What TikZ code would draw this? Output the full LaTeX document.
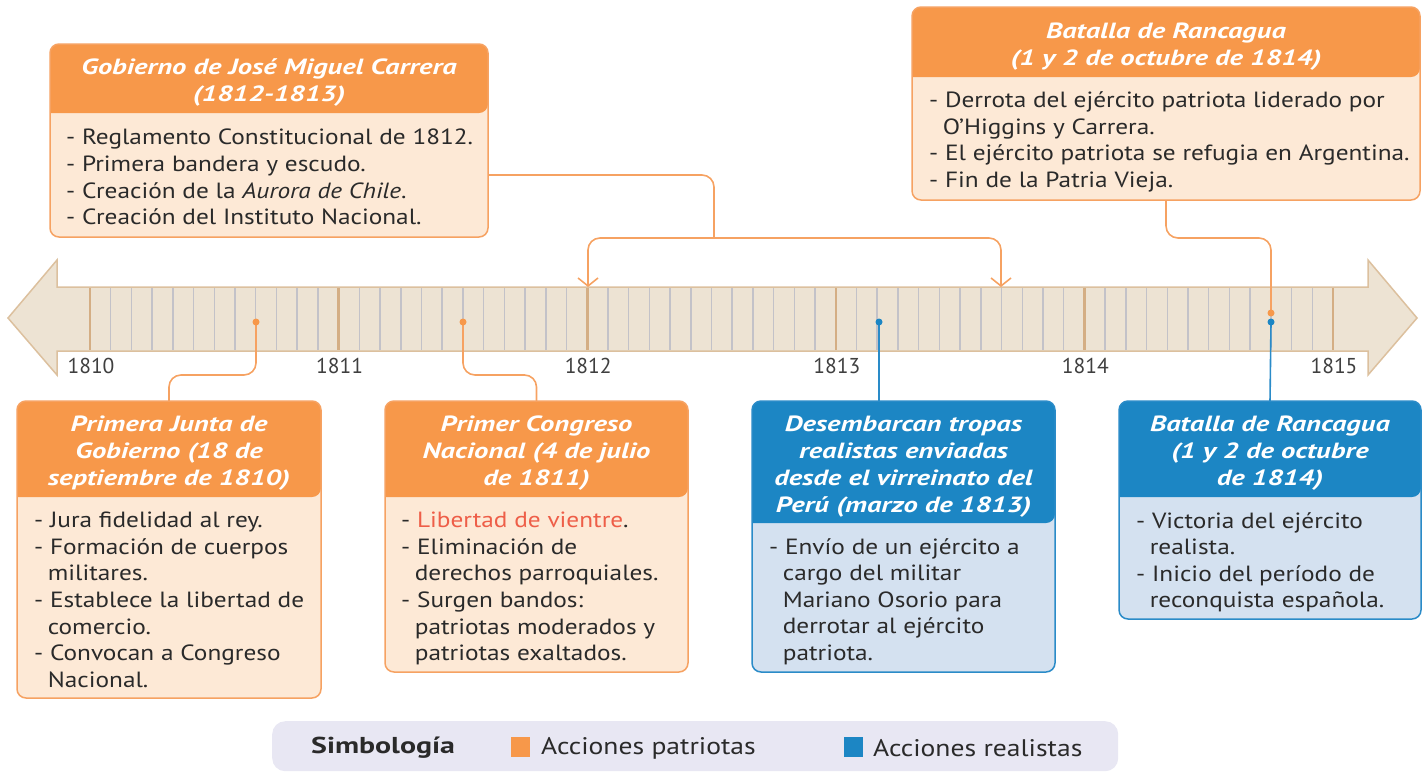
\documentclass[tikz,border=0pt]{standalone}
\usepackage{fontspec}
\setmainfont{PT Sans}[FakeStretch=1.15]
\newfontfamily\hfont{PT Sans}[FakeStretch=1.3]
\newfontfamily\plainfont{PT Sans}
\usetikzlibrary{arrows.meta}
\definecolor{ohead}{HTML}{F7984A}
\definecolor{obody}{HTML}{FDE9D6}
\definecolor{oline}{HTML}{F6A262}
\definecolor{bhead}{HTML}{1C86C4}
\definecolor{bbody}{HTML}{D4E1F0}
\definecolor{bline}{HTML}{2A8BC8}
\definecolor{tlfill}{HTML}{EDE3D3}
\definecolor{tldraw}{HTML}{DCC09E}
\definecolor{mtick}{HTML}{C3C2C8}
\definecolor{ytick}{HTML}{D4AE84}
\definecolor{txt}{HTML}{2A2A2A}
\definecolor{legfill}{HTML}{E8E7F3}
\definecolor{redtxt}{HTML}{EE5E48}
\newcommand\evbox[7]{%
  \node[inner sep=0, outer sep=0, minimum width={#4-#2}, minimum height={#5-#3}, anchor=north west] (#1) at (#2,#3) {};
  \fill[#7body, rounded corners=9] (#1.north west) rectangle (#1.south east);
  \fill[#7head] (#2,#6) [rounded corners=9] -- (#2,#3) -- (#4,#3) -- (#4,#6) [sharp corners] -- cycle;
  \draw[#7line, line width=1.5, rounded corners=9] (#1.north west) rectangle (#1.south east);
}
\newcommand\ind{\hspace*{0.62em}}
\begin{document}
\begin{tikzpicture}[x=1pt,y=-1pt,
  htext/.style={text=white, align=center, inner sep=0, font=\hfont\fontsize{22}{27}\selectfont\bfseries\itshape},
  btext/.style={text=txt, align=left, inner sep=0, anchor=north west, font=\fontsize{22}{26.6}\selectfont},
  ocon/.style={oline, line width=1.6, rounded corners=12},
  bcon/.style={bline, line width=1.6},
  dot/.style={circle, inner sep=0, minimum size=7},
  yearlab/.style={text=txt!90, inner sep=0, font=\plainfont\fontsize{21.5}{24}\selectfont},
  legtext/.style={text=txt, inner sep=0, anchor=west, font=\fontsize{24}{26}\selectfont},
  barb/.style={-{Straight Barb[length=8pt,width=20pt,line width=1.6pt]}}
]
\useasboundingbox (0,0) rectangle (1423,782);
% timeline arrow
\filldraw[fill=tlfill, draw=tldraw, line width=1.5, line join=miter]
  (8,318) -- (57,260) -- (57,287) -- (1368,287) -- (1368,260) -- (1417,318)
  -- (1368,375) -- (1368,351) -- (57,351) -- (57,375) -- cycle;
\foreach \k in {0,...,4}{
  \foreach \m in {1,...,11}{
    \draw[mtick, line width=1.5] ({90+(\k*12+\m)*248.6/12},288) -- ({90+(\k*12+\m)*248.6/12},350);
  }
}
\foreach \k/\yr in {0/1810,1/1811,2/1812,3/1813,4/1814,5/1815}{
  \draw[ytick, line width=2.6] ({90+\k*248.6},288) -- ({90+\k*248.6},350);
  \node[yearlab] (y\yr) at ({91+\k*248.6},366) {\yr};
}
% named coordinates on the timeline
\coordinate (a1812) at (588,287);
\coordinate (a1813) at (1001,287);
\coordinate (jn) at (714,238);

% boxes
\evbox{gob}{50}{44}{488}{237}{113}{o}
\node[htext] (hgob) at (269,82) {Gobierno de José Miguel Carrera\\(1812-1813)};
\node[btext] (tgob) at (66,129) {- Reglamento Constitucional de 1812.\\- Primera bandera y escudo.\\- Creación de la \textit{Aurora de Chile}.\\- Creación del Instituto Nacional.};

\evbox{rt}{912}{7}{1420}{200}{77}{o}
\node[htext] (hrt) at (1166,46.5) {Batalla de Rancagua\\(1 y 2 de octubre de 1814)};
\node[btext] (trt) at (929,91.5) {- Derrota del ejército patriota liderado por\\\ind O’Higgins y Carrera.\\- El ejército patriota se refugia en Argentina.\\- Fin de la Patria Vieja.};

\evbox{pj}{17}{401}{321}{698}{497}{o}
\node[htext] (hpj) at (169,453) {Primera Junta de\\Gobierno (18 de\\septiembre de 1810)};
\node[btext] (tpj) at (34,512) {- Jura fidelidad al rey.\\- Formación de cuerpos\\\ind militares.\\- Establece la libertad de\\\ind comercio.\\- Convocan a Congreso\\\ind Nacional.};

\evbox{pc}{385}{401}{688}{672}{497}{o}
\node[htext] (hpc) at (536.5,453) {Primer Congreso\\Nacional (4 de julio\\de 1811)};
\node[btext] (tpc) at (401,512) {- \textcolor{redtxt}{Libertad de vientre}.\\- Eliminación de\\\ind derechos parroquiales.\\- Surgen bandos:\\\ind patriotas moderados y\\\ind patriotas exaltados.};

\evbox{de}{752}{401}{1055}{672}{523}{b}
\node[htext] (hde) at (903.5,466.5) {Desembarcan tropas\\realistas enviadas\\desde el virreinato del\\Perú (marzo de 1813)};
\node[btext] (tde) at (769,538) {- Envío de un ejército a\\\ind cargo del militar\\\ind Mariano Osorio para\\\ind derrotar al ejército\\\ind patriota.};

\evbox{br}{1119}{401}{1421}{619}{497}{b}
\node[htext] (hbr) at (1270,453) {Batalla de Rancagua\\(1 y 2 de octubre\\de 1814)};
\node[btext] (tbr) at (1136,512) {- Victoria del ejército\\\ind realista.\\- Inicio del período de\\\ind reconquista española.};

% dots
\node[dot] (d1) at (256,322) {};
\node[dot] (d2) at (463,322) {};
\node[dot] (d3) at (879,322) {};
\node[dot] (d4) at (1271,313) {};
\node[dot] (d5) at (1271,322) {};

% connectors
\draw[ocon] ([yshift=-34.5pt]gob.east) -| (jn);
\draw[ocon, barb] (jn) -| (a1812);
\draw[ocon, barb] (jn) -| (a1813);
\draw[ocon] (rt.south) |- (d4 |- jn) -- (d4.center);
\draw[ocon] (d1.center) |- ([yshift=26pt]pj.north) -- (pj.north);
\draw[ocon] (d2.center) |- ([yshift=26pt]pc.north) -- (pc.north);
\draw[bcon] (d3.center) -- (d3 |- de.north);
\draw[bcon] (d5.center) -- (br.north);
\fill[ohead] (d1) circle (3.5);
\fill[ohead] (d2) circle (3.5);
\fill[bhead] (d3) circle (3.5);
\fill[ohead] (d4) circle (3.5);
\fill[bhead] (d5) circle (3.5);

% legend
\node[fill=legfill, rounded corners=13, inner sep=0, minimum width=846, minimum height=50, anchor=north west] (leg) at (272,721) {};
\node[legtext, font=\hfont\fontsize{23}{26}\selectfont\bfseries] (lsym) at (311,748) {Simbología};
\node[fill=ohead, inner sep=0, minimum width=19, minimum height=20] (sqo) at (520.5,747) {};
\node[legtext] (lpat) at (541,748) {Acciones patriotas};
\node[fill=bhead, inner sep=0, minimum width=19, minimum height=20] (sqb) at (853,747) {};
\node[legtext] (lrea) at (873,748) {Acciones realistas};
\end{tikzpicture}
\end{document}
